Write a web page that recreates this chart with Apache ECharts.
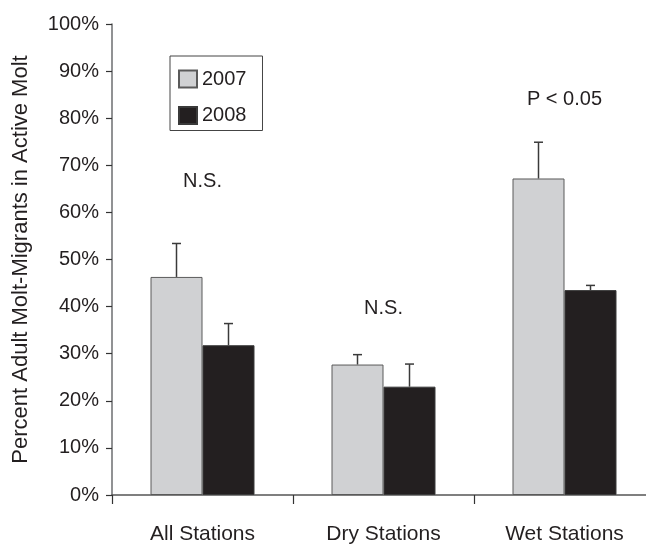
<!DOCTYPE html>
<html>
<head>
<meta charset="utf-8">
<script src="https://cdn.jsdelivr.net/npm/echarts@6/dist/echarts.min.js"></script>
<style>
html,body{margin:0;padding:0;background:#fff;}
#chart{width:646px;height:544px;}
</style>
</head>
<body>
<div id="chart"></div>
<script>
// ---- data ----
var categories = ['All Stations', 'Dry Stations', 'Wet Stations'];
var years = ['2007', '2008'];
var mean2007 = [46.3, 27.7, 67.2];
var mean2008 = [31.8, 23.0, 43.5];
var upper2007 = [53.4, 29.8, 74.9];
var upper2008 = [36.4, 27.8, 44.5];
var annotationText = ['N.S.', 'N.S.', 'P < 0.05'];
var annotationLevel = [66.5, 39.5, 84.0];
var yTicks = [0, 10, 20, 30, 40, 50, 60, 70, 80, 90, 100];

// ---- style ----
var FONT = 'Liberation Sans, Arial, Helvetica, sans-serif';
var TEXT = '#231f20';
var BAR_W = 52;

var chart = echarts.init(document.getElementById('chart'), null, {renderer: 'canvas'});

function errorSeries(means, uppers, offset) {
  var data = means.map(function (m, i) { return [i, m, uppers[i]]; });
  return {
    type: 'custom',
    silent: true,
    z: 5,
    data: data,
    renderItem: function (params, api) {
      var base = api.coord([api.value(0), api.value(1)]);
      var top = api.coord([api.value(0), api.value(2)]);
      var x = base[0] + offset;
      return {
        type: 'group',
        children: [
          {type: 'line', shape: {x1: x, y1: base[1], x2: x, y2: top[1]},
           style: {stroke: '#3a3a3a', lineWidth: 1.5}},
          {type: 'line', shape: {x1: x - 4.5, y1: top[1], x2: x + 4.5, y2: top[1]},
           style: {stroke: '#3a3a3a', lineWidth: 1.5}}
        ]
      };
    }
  };
}

var annData = annotationText.map(function (t, i) { return [i, annotationLevel[i], t]; });

var option = {
  animation: false,
  backgroundColor: '#fff',
  textStyle: {fontFamily: FONT, color: TEXT},
  grid: {left: 112, width: 543, top: 24, height: 471, containLabel: false, outerBoundsMode: 'none'},
  legend: {
    data: years,
    orient: 'vertical',
    left: 170,
    top: 56,
    padding: [13, 16, 5, 8],
    itemGap: 16.5,
    itemWidth: 18,
    itemHeight: 17,
    borderColor: '#444',
    borderWidth: 1,
    icon: 'rect',
    textStyle: {fontFamily: FONT, fontSize: 20, color: TEXT, lineHeight: 20}
  },
  xAxis: {
    type: 'category',
    data: categories,
    boundaryGap: true,
    axisLine: {lineStyle: {color: '#555', width: 1.5}},
    axisTick: {show: true, length: 9, lineStyle: {color: '#333', width: 1.2}},
    axisLabel: {fontFamily: FONT, fontSize: 21, color: TEXT, margin: 29},
    splitLine: {show: false}
  },
  yAxis: {
    type: 'value',
    min: 0,
    max: 100,
    interval: 10,
    name: 'Percent Adult Molt-Migrants in Active Molt',
    nameLocation: 'middle',
    nameGap: 80,
    nameTextStyle: {fontFamily: FONT, fontSize: 22, color: TEXT},
    axisLine: {show: true, lineStyle: {color: '#6d6e70', width: 1.5}},
    axisTick: {show: true, inside: false, length: 6, lineStyle: {color: '#333', width: 1.2}},
    axisLabel: {fontFamily: FONT, fontSize: 20, color: TEXT, margin: 13,
      formatter: function (v) { return yTicks.indexOf(v) >= 0 ? v + '%' : ''; }},
    splitLine: {show: false}
  },
  series: [
    {
      name: years[0], type: 'bar', data: mean2007, barWidth: BAR_W, barGap: '0%',
      itemStyle: {color: '#d0d1d3', borderColor: '#5a5a5a', borderWidth: 1}
    },
    {
      name: years[1], type: 'bar', data: mean2008, barWidth: BAR_W, barGap: '0%',
      itemStyle: {color: '#231f20', borderColor: '#3a3a3a', borderWidth: 1}
    },
    errorSeries(mean2007, upper2007, -BAR_W / 2),
    errorSeries(mean2008, upper2008, BAR_W / 2),
    {
      type: 'custom',
      silent: true,
      data: annData,
      renderItem: function (params, api) {
        var p = api.coord([api.value(0), api.value(1)]);
        return {
          type: 'text',
          x: p[0], y: p[1],
          style: {text: annotationText[params.dataIndex], fontFamily: FONT, fontSize: 20,
                  fill: TEXT, align: 'center', verticalAlign: 'middle'}
        };
      }
    }
  ]
};
chart.setOption(option);
</script>
</body>
</html>
